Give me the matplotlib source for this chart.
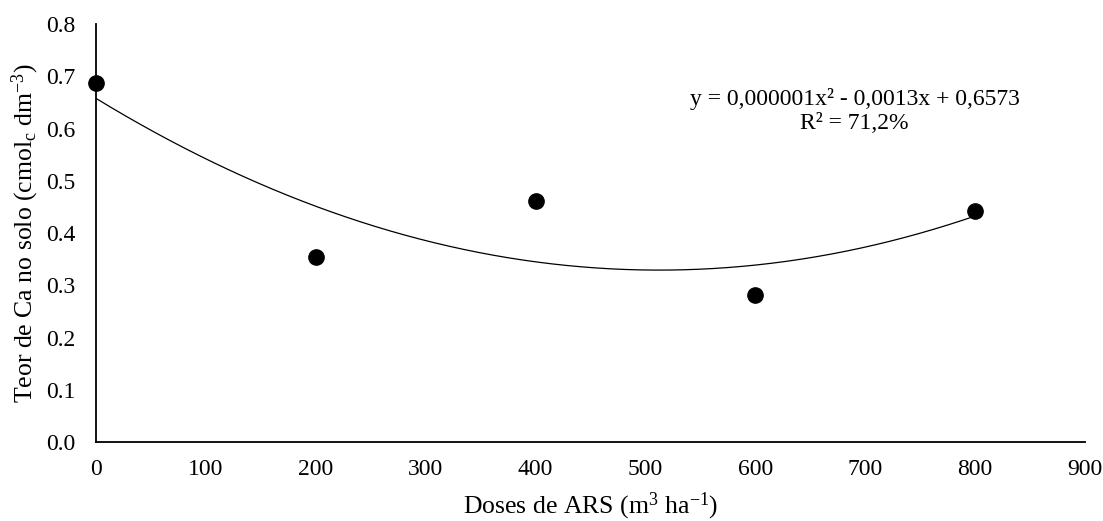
import numpy as np
import matplotlib
matplotlib.use("Agg")
import matplotlib.pyplot as plt
from matplotlib.ticker import FormatStrFormatter

plt.rcParams["font.family"] = ["Liberation Serif", "DejaVu Serif"]
plt.rcParams["mathtext.fontset"] = "custom"
plt.rcParams["mathtext.rm"] = "Liberation Serif"
plt.rcParams["mathtext.it"] = "Liberation Serif:italic"

# data
doses = [0, 200, 400, 600, 800]
calcio = [0.687, 0.354, 0.461, 0.281, 0.442]
x_ticks = [0, 100, 200, 300, 400, 500, 600, 700, 800, 900]
y_ticks = [0.0, 0.1, 0.2, 0.3, 0.4, 0.5, 0.6, 0.7, 0.8]
equation = "y = 0,000001x\u00b2 - 0,0013x + 0,6573\nR\u00b2 = 71,2%"

fig = plt.figure(figsize=(11.03, 5.21), dpi=100)
ax = fig.add_axes((0.087, 0.1516, 0.8967, 0.8023))

# quadratic trend line fitted to the points
coef = np.polyfit(doses, calcio, 2)
xs = np.linspace(min(doses), max(doses), 300)
ax.plot(xs, np.polyval(coef, xs), color="black", linewidth=0.9, zorder=2)

ax.plot(doses, calcio, linestyle="none", marker="o", markersize=11,
        color="black", clip_on=False, zorder=3)

ax.set_xlim(0, 900)
ax.set_ylim(0, 0.8)
ax.set_xticks(x_ticks)
ax.set_yticks(y_ticks)
ax.yaxis.set_major_formatter(FormatStrFormatter("%.1f"))
ax.tick_params(axis="both", length=0, labelsize=17)
ax.tick_params(axis="x", pad=12)
ax.tick_params(axis="y", pad=15)

for side in ("top", "right"):
    ax.spines[side].set_visible(False)
for side in ("left", "bottom"):
    ax.spines[side].set_linewidth(1.3)

fig.text(0.535, 0.028, r"Doses de ARS (m$^{3}$ ha$^{-1}$)", fontsize=18.5,
         ha="center", va="center")
fig.text(0.023, 0.553, r"Teor de Ca no solo (cmol$_{\mathrm{c}}$ dm$^{-3}$)",
         fontsize=18.5, rotation=90, ha="center", va="center")

ax.text(0.767, 0.792, equation, transform=ax.transAxes, ha="center",
        va="center", fontsize=17, linespacing=1.2)

fig.savefig("out.png", dpi=100)
